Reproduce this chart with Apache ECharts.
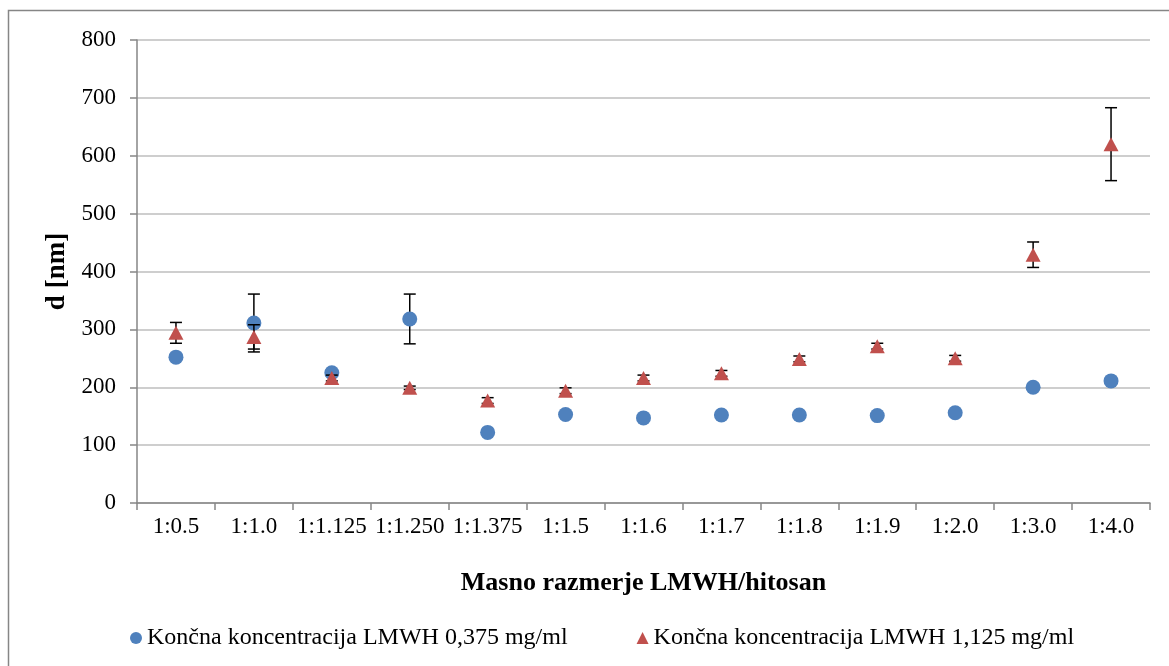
<!DOCTYPE html>
<html>
<head>
<meta charset="utf-8">
<script src="https://cdn.jsdelivr.net/npm/echarts@6/dist/echarts.min.js"></script>
<style>
  html, body { margin: 0; padding: 0; background: #fff; }
  #chart { width: 1169px; height: 666px; }
</style>
</head>
<body>
<div id="chart"></div>
<script>
// Mass ratio categories (LMWH : chitosan)
const categories = ['1:0.5', '1:1.0', '1:1.125', '1:1.250', '1:1.375', '1:1.5', '1:1.6', '1:1.7', '1:1.8', '1:1.9', '1:2.0', '1:3.0', '1:4.0'];

// Particle diameter d [nm], final LMWH concentration 0.375 mg/ml
const d0375 = [252, 311, 225, 318, 122, 153, 147, 152, 152, 151, 156, 200, 211];
const sd0375 = [3, 50, 5, 43, 2, 2, 2, 2, 2, 2, 2, 2, 2];

// Particle diameter d [nm], final LMWH concentration 1.125 mg/ml
const d1125 = [294, 287, 216, 199, 177, 194, 216, 224, 249, 271, 250, 429, 620];
const sd1125 = [18, 21, 5, 3, 5, 5, 5, 5, 5, 5, 5, 22, 63];

const yTicks = [0, 100, 200, 300, 400, 500, 600, 700, 800];

const nameBlue = 'Končna koncentracija LMWH 0,375 mg/ml';
const nameRed = 'Končna koncentracija LMWH 1,125 mg/ml';
const FONT = '"Liberation Serif", "Times New Roman", serif';

function errorData(values, sds) {
  return values.map((v, i) => [i, v - sds[i], v + sds[i]]);
}

function renderErrorBar(params, api) {
  const x = api.value(0);
  const lo = api.coord([x, api.value(1)]);
  const hi = api.coord([x, api.value(2)]);
  const half = 6;
  const style = { stroke: '#000', lineWidth: 1.5 };
  return {
    type: 'group',
    children: [
      { type: 'line', shape: { x1: hi[0], y1: hi[1], x2: lo[0], y2: lo[1] }, style },
      { type: 'line', shape: { x1: hi[0] - half, y1: hi[1], x2: hi[0] + half, y2: hi[1] }, style },
      { type: 'line', shape: { x1: lo[0] - half, y1: lo[1], x2: lo[0] + half, y2: lo[1] }, style }
    ]
  };
}

const chart = echarts.init(document.getElementById('chart'), null, { renderer: 'canvas' });

chart.setOption({
  animation: false,
  backgroundColor: '#fff',
  textStyle: { fontFamily: FONT, color: '#000' },
  graphic: [{
    type: 'rect',
    shape: { x: 8.5, y: 10.5, width: 1300, height: 800 },
    style: { fill: 'none', stroke: '#868686', lineWidth: 1.5 },
    silent: true,
    z: -10
  }],
  grid: { left: 137, right: 19, top: 40, bottom: 163, containLabel: false },
  legend: {
    data: [
      { name: nameBlue, icon: 'circle' },
      { name: nameRed, icon: 'triangle' }
    ],
    left: 125,
    top: 621,
    itemWidth: 12,
    itemHeight: 12,
    itemGap: 69,
    itemTextGap: 4,
    textStyle: { fontFamily: FONT, fontSize: 24, color: '#000' }
  },
  xAxis: {
    type: 'category',
    data: categories,
    boundaryGap: true,
    name: 'Masno razmerje LMWH/hitosan',
    nameLocation: 'middle',
    nameGap: 67,
    nameTextStyle: { fontFamily: FONT, fontSize: 26, fontWeight: 'bold', color: '#000' },
    axisLine: { lineStyle: { color: '#868686', width: 1.5 } },
    axisTick: { show: true, alignWithLabel: false, length: 7, lineStyle: { color: '#868686', width: 1.5 } },
    axisLabel: { fontFamily: FONT, fontSize: 23, color: '#000', margin: 12, interval: 0 },
    splitLine: { show: false }
  },
  yAxis: {
    type: 'value',
    min: 0,
    max: 800,
    interval: 100,
    name: 'd [nm]',
    nameLocation: 'middle',
    nameGap: 66,
    nameTextStyle: { fontFamily: FONT, fontSize: 27, fontWeight: 'bold', color: '#000' },
    axisLine: { show: true, lineStyle: { color: '#868686', width: 1.5 } },
    axisTick: { show: true, length: 7, lineStyle: { color: '#868686', width: 1.5 } },
    axisLabel: {
      fontFamily: FONT, fontSize: 23, color: '#000', margin: 21,
      formatter: v => (yTicks.indexOf(v) >= 0 ? String(v) : '')
    },
    splitLine: { show: true, lineStyle: { color: '#BEBEBE', width: 1.5 } }
  },
  series: [
    {
      type: 'custom',
      renderItem: renderErrorBar,
      data: errorData(d0375, sd0375),
      encode: { x: 0, y: [1, 2] },
      silent: true,
      z: 2
    },
    {
      name: nameBlue,
      type: 'scatter',
      data: d0375,
      symbol: 'circle',
      symbolSize: 15,
      itemStyle: { color: '#4F81BD', opacity: 1 },
      z: 3
    },
    {
      type: 'custom',
      renderItem: renderErrorBar,
      data: errorData(d1125, sd1125),
      encode: { x: 0, y: [1, 2] },
      silent: true,
      z: 4
    },
    {
      name: nameRed,
      type: 'scatter',
      data: d1125,
      symbol: 'triangle',
      symbolSize: [15, 14],
      itemStyle: { color: '#C0504D', opacity: 1 },
      z: 5
    }
  ]
});
</script>
</body>
</html>
